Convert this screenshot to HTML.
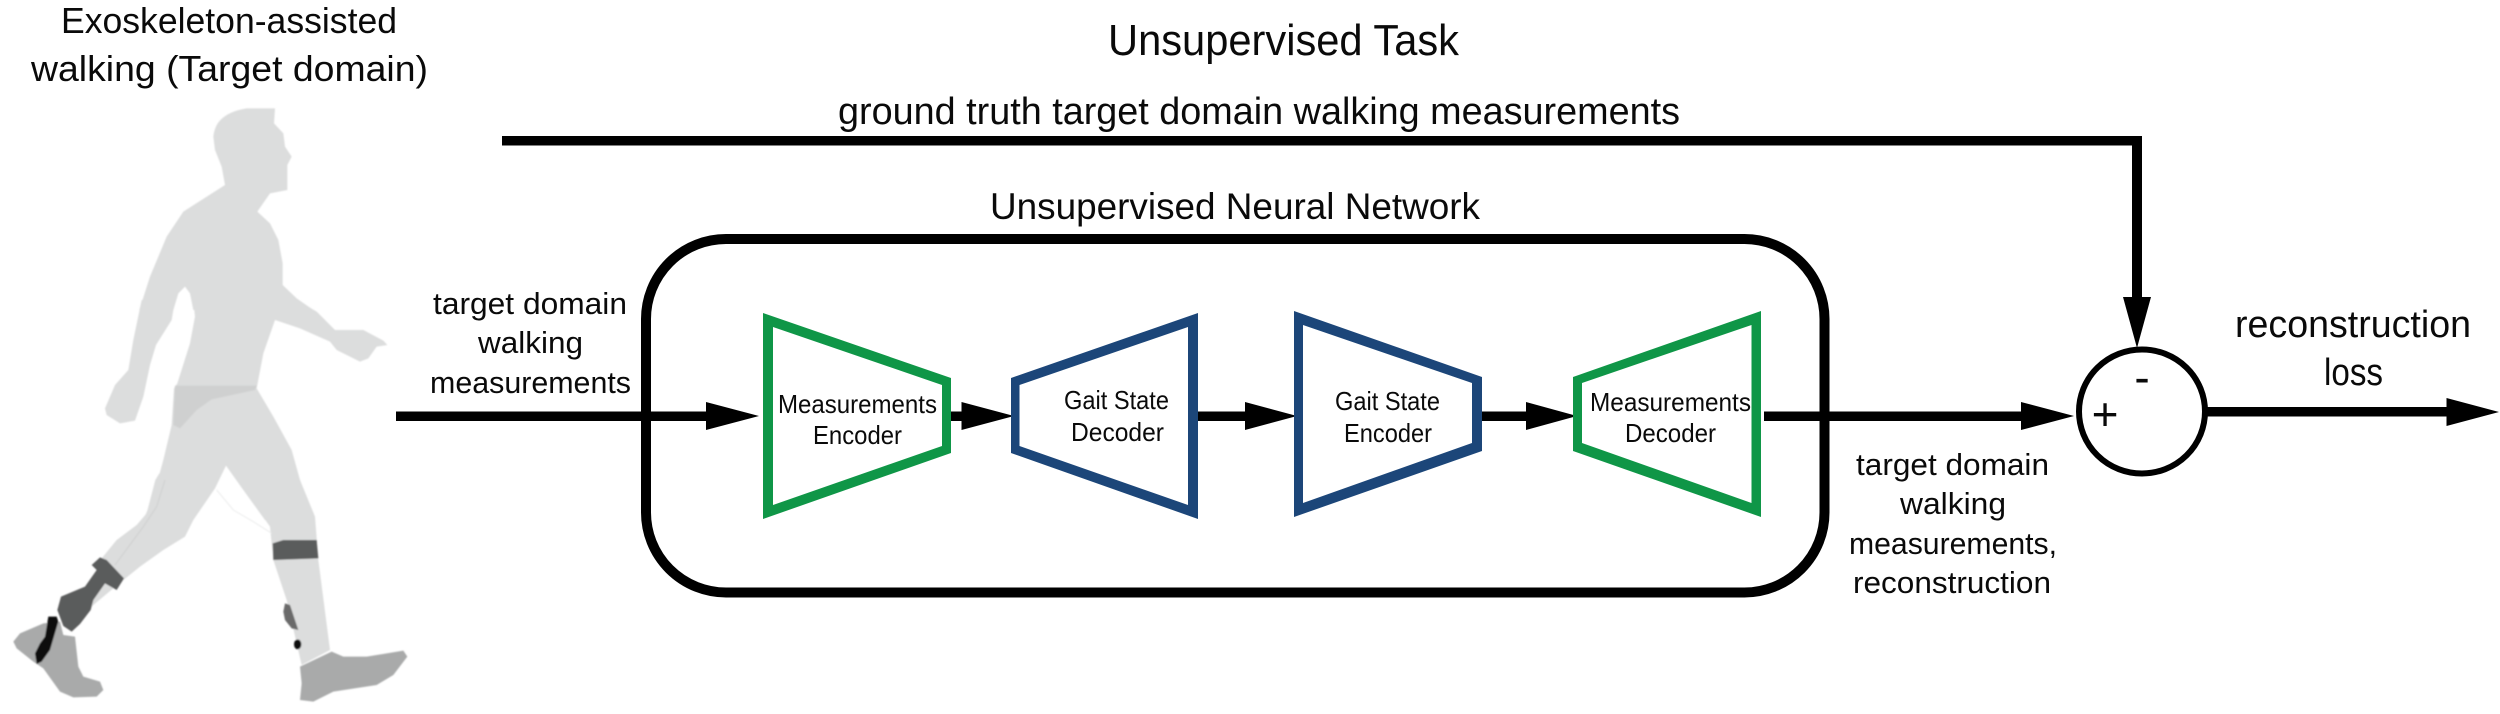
<!DOCTYPE html>
<html><head><meta charset="utf-8"><style>
html,body{margin:0;padding:0;background:#fff;}
svg{display:block;}
text{font-family:"Liberation Sans",sans-serif;fill:#0a0a0a;}
</style></head><body>
<svg xmlns="http://www.w3.org/2000/svg" width="2500" height="714" viewBox="0 0 2500 714">
<defs><filter id="b" x="-5%" y="-5%" width="110%" height="110%"><feGaussianBlur stdDeviation="0.7"/></filter></defs>
<rect width="2500" height="714" fill="#fff"/>
<!-- figure -->
<g filter="url(#b)">
<g transform="translate(100,90) scale(0.33333)" fill="#dcdddd">
<path d="M340,140 C345,90 380,65 440,55 L525,55 L522,100 L550,130 L555,170 L575,200 L562,225 L562,300 L510,310 L472,365 L510,400 L535,450 L548,520 L548,585 L590,625 L640,660 L280,660 L270,610 L255,590 L235,610 L220,660 L118,660 L150,560 L200,440 L250,365 L375,285 L365,230 L345,180 Z"/>
</g>
<g transform="translate(100,300) scale(0.33333)">
<path fill="#dcdddd" d="M280,0 L285,50 L270,130 L232,250 L222,265 L215,375 L190,480 L160,590 L130,660 L280,660 L345,565 L378,497 L430,570 L495,660 L640,660 L600,540 L575,450 L520,350 L470,265 L490,160 L525,60 L600,85 L690,125 L710,150 L780,185 L805,175 L830,140 L862,135 L850,122 L790,90 L705,90 L650,35 L590,0 Z"/>
<path fill="#dcdddd" d="M125,0 L225,0 L215,60 L168,135 L150,195 L130,290 L105,362 L60,370 L20,345 L15,325 L45,255 L85,210 L100,120 Z"/>
<path fill="#cfd0d0" d="M225,257 L470,257 L465,270 L335,298 L290,330 L240,385 L220,375 Z"/>
</g>
<g transform="translate(0,480) scale(0.33333)">
<path fill="#dcdddd" d="M478,-20 L466,0 L440,100 L410,135 L350,180 L305,235 L280,300 L190,440 L225,440 L280,375 L370,300 L420,260 L490,210 L555,170 L610,60 L650,0 L660,-20 Z"/>
<path fill="#dcdddd" d="M712,0 L810,140 L820,240 L860,360 L905,555 L990,510 L955,240 L945,110 L900,0 Z"/>
<path fill="none" stroke="#eceded" stroke-width="3" d="M650,30 L700,90 L760,125 L815,160"/>
<path fill="none" stroke="#cfd0d0" stroke-width="3" d="M495,0 L470,80 L430,140 L345,255"/>
<path fill="#a9aaaa" d="M40,485 L60,460 L130,430 L180,425 L190,465 L225,470 L235,560 L250,590 L300,605 L310,630 L290,650 L220,652 L180,635 L130,565 L100,545 L50,505 Z"/>
<path fill="#5a5b5b" d="M275,255 L300,232 L320,240 L372,295 L350,330 L315,310 L280,360 L272,390 L240,432 L215,455 L190,438 L172,390 L183,350 L235,328 L255,320 L290,270 Z"/>
<path fill="#0a0a0a" d="M145,410 L170,410 L175,425 L150,510 L125,545 L110,552 L105,520 L120,490 L135,470 Z"/>
<path fill="#5a5b5b" d="M818,190 L850,180 L950,180 L955,235 L820,240 Z"/>
<path fill="#6a6b6b" d="M855,370 L870,375 L895,450 L875,445 L855,420 L850,395 Z"/>
<ellipse cx="893" cy="493" rx="11" ry="15" fill="#111"/>
<path fill="#a9aaaa" d="M900,560 L995,515 L1030,530 L1100,530 L1210,512 L1222,530 L1180,585 L1130,615 L1000,635 L940,665 L900,660 L905,610 Z"/>
</g>
</g>
<!-- network box -->
<rect x="646" y="239" width="1178.5" height="353.5" rx="80" ry="80" fill="none" stroke="#000" stroke-width="10"/>
<!-- connectors -->
<g fill="#000">
<rect x="396" y="411.5" width="312" height="9.5"/>
<path d="M706,402 L759,416 L706,430 Z"/>
<rect x="951" y="411.5" width="12" height="9.5"/>
<path d="M961.5,402 L1014,416 L961.5,430 Z"/>
<rect x="1198" y="411.5" width="49" height="9.5"/>
<path d="M1245,402 L1297,416 L1245,430 Z"/>
<rect x="1477" y="411.5" width="51" height="9.5"/>
<path d="M1526,402 L1577,416 L1526,430 Z"/>
<rect x="1764" y="411.5" width="259" height="9.5"/>
<path d="M2021,402 L2074,416 L2021,430 Z"/>
<path d="M502,136 H2142 V299 H2132 V145.5 H502 Z"/>
<path d="M2123,297 L2151,297 L2137,348 Z"/>
<rect x="2207" y="407" width="241" height="9.5"/>
<path d="M2446.5,398 L2499,412 L2446.5,426 Z"/>
</g>
<ellipse cx="2142" cy="411.5" rx="63" ry="62" fill="none" stroke="#000" stroke-width="6"/>
<!-- trapezoids -->
<path fill="#0f9647" fill-rule="evenodd" d="M763,313 L951,378 L951,453 L763,519 Z M773,327 L773,505 L942,446 L942,385 Z"/>
<path fill="#1c4679" fill-rule="evenodd" d="M1198,313 L1011,378 L1011,453 L1198,519 Z M1188,327 L1188,505 L1019.5,446 L1019.5,385 Z"/>
<path fill="#1c4679" fill-rule="evenodd" d="M1294,311 L1482,377 L1482,451 L1294,517 Z M1303,325 L1303,503 L1472,443 L1472,383 Z"/>
<path fill="#0f9647" fill-rule="evenodd" d="M1761,311 L1573,377 L1573,451 L1761,517 Z M1751.5,325 L1751.5,503 L1582,443 L1582,383 Z"/>
<!-- labels -->
<g>
<text x="61" y="33" font-size="36" textLength="336" lengthAdjust="spacingAndGlyphs">Exoskeleton-assisted</text>
<text x="31" y="81" font-size="36" textLength="397" lengthAdjust="spacingAndGlyphs">walking (Target domain)</text>
<text x="1108" y="55" font-size="44" textLength="351" lengthAdjust="spacingAndGlyphs">Unsupervised Task</text>
<text x="838" y="124" font-size="38" textLength="842" lengthAdjust="spacingAndGlyphs">ground truth target domain walking measurements</text>
<text x="990" y="219" font-size="37" textLength="490" lengthAdjust="spacingAndGlyphs">Unsupervised Neural Network</text>
<text x="433" y="314" font-size="31" textLength="194" lengthAdjust="spacingAndGlyphs">target domain</text>
<text x="478" y="353" font-size="31" textLength="105" lengthAdjust="spacingAndGlyphs">walking</text>
<text x="430" y="393" font-size="31" textLength="201" lengthAdjust="spacingAndGlyphs">measurements</text>
<text x="1856" y="475" font-size="31" textLength="193" lengthAdjust="spacingAndGlyphs">target domain</text>
<text x="1900" y="514" font-size="31" textLength="106" lengthAdjust="spacingAndGlyphs">walking</text>
<text x="1849" y="554" font-size="31" textLength="208" lengthAdjust="spacingAndGlyphs">measurements,</text>
<text x="1853" y="593" font-size="31" textLength="198" lengthAdjust="spacingAndGlyphs">reconstruction</text>
<text x="2235" y="337" font-size="38" textLength="236" lengthAdjust="spacingAndGlyphs">reconstruction</text>
<text x="2324" y="385" font-size="38" textLength="59" lengthAdjust="spacingAndGlyphs">loss</text>
<text x="778" y="413" font-size="26" textLength="159" lengthAdjust="spacingAndGlyphs">Measurements</text>
<text x="813" y="444" font-size="26" textLength="89" lengthAdjust="spacingAndGlyphs">Encoder</text>
<text x="1064" y="409" font-size="26" textLength="105" lengthAdjust="spacingAndGlyphs">Gait State</text>
<text x="1071" y="441" font-size="26" textLength="93" lengthAdjust="spacingAndGlyphs">Decoder</text>
<text x="1335" y="410" font-size="26" textLength="105" lengthAdjust="spacingAndGlyphs">Gait State</text>
<text x="1344" y="442" font-size="26" textLength="88" lengthAdjust="spacingAndGlyphs">Encoder</text>
<text x="1590" y="411" font-size="26" textLength="161" lengthAdjust="spacingAndGlyphs">Measurements</text>
<text x="1625" y="442" font-size="26" textLength="91" lengthAdjust="spacingAndGlyphs">Decoder</text>
<text x="2105" y="430" font-size="46" text-anchor="middle">+</text>
<text x="2142" y="393" font-size="46" text-anchor="middle">-</text>
</g>
</svg>
</body></html>
